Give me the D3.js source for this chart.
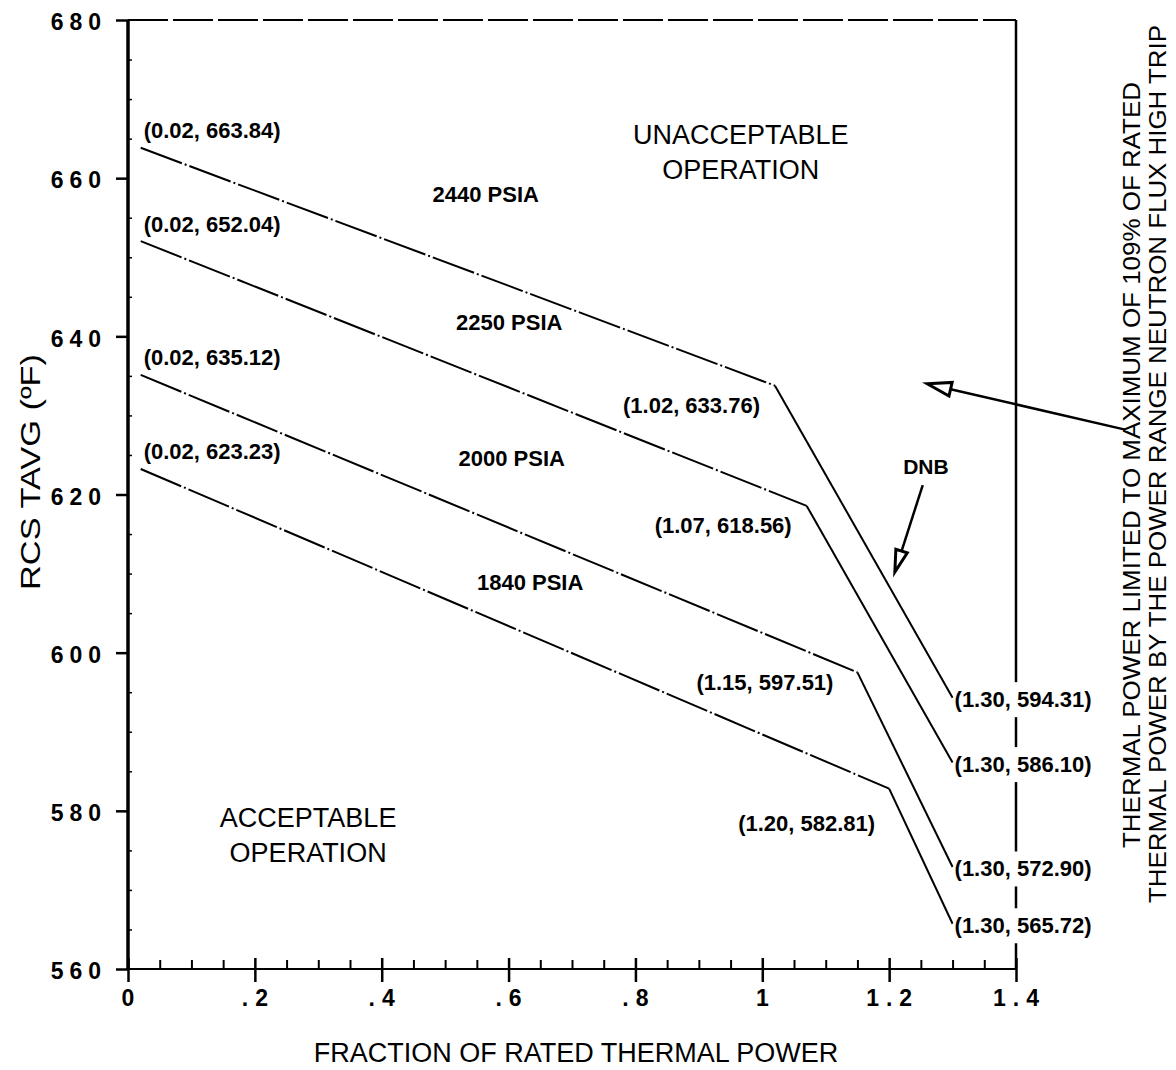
<!DOCTYPE html>
<html><head><meta charset="utf-8">
<script src="https://cdn.jsdelivr.net/npm/d3@7"></script>
<style>
body{margin:0;background:#fff;}
svg{display:block;}
</style></head><body>
<svg id="chart" width="1176" height="1070"></svg>
<script>
// ---------------- data ----------------
const seriesNames = ["2440 PSIA","2250 PSIA","2000 PSIA","1840 PSIA"];
const seriesX = [[0.02,1.02,1.30],[0.02,1.07,1.30],[0.02,1.15,1.30],[0.02,1.20,1.30]];
const seriesY = [[663.84,633.76,594.31],[652.04,618.56,586.10],[635.12,597.51,572.90],[623.23,582.81,565.72]];
const xTicks = [0,0.2,0.4,0.6,0.8,1.0,1.2,1.4];
const xTickLabels = ["0",".2",".4",".6",".8","1","1.2","1.4"];
const yTicks = [560,580,600,620,640,660,680];
const yTickLabels = ["560","580","600","620","640","660","680"];
const xTitle = "FRACTION OF RATED THERMAL POWER";
const yTitle = "RCS TAVG (ºF)";
const regionTexts = [["UNACCEPTABLE","OPERATION"],["ACCEPTABLE","OPERATION"]];
const noteLines = ["THERMAL POWER LIMITED TO MAXIMUM OF 109% OF RATED","THERMAL POWER BY THE POWER RANGE NEUTRON FLUX HIGH TRIP"];
const dnbText = "DNB";

// ---------------- layout (annotation anchors in data units, offsets in px) ----------------
const seriesNamePos = [[0.564,657.9],[0.601,641.7],[0.605,624.6],[0.634,608.9]];
const regionPos = [[0.966,663.2],[0.284,576.9]];
const dnbPos = [1.258,623.5];
const dnbArrow = [[1.253,621.2],[1.209,610.2]];
const noteArrow = [[1.572,628.2],[1.260,634.0]];
const kneeOffsets = [[-15,20],[-15,20],[-24,10],[-14,35]];

const svg = d3.select("#chart");
const x = d3.scaleLinear().domain([0,1.4]).range([128,1016]);
const y = d3.scaleLinear().domain([560,680]).range([969,20]);

const sans = "'Liberation Sans', Arial, Helvetica, sans-serif";

// frame: top dashed, right solid
svg.append("line").attr("x1",x(0)).attr("x2",x(1.4)).attr("y1",y(680)).attr("y2",y(680))
  .attr("stroke","#000").attr("stroke-width",2).attr("stroke-dasharray","40,5");
svg.append("line").attr("x1",x(1.4)).attr("x2",x(1.4)).attr("y1",y(680)).attr("y2",y(560))
  .attr("stroke","#000").attr("stroke-width",2.5);

// x axis
const xAxisG = svg.append("g").attr("transform",`translate(0,${y(560)})`)
  .call(d3.axisBottom(x).tickValues(xTicks).tickFormat((d,i)=>xTickLabels[i]).tickSizeInner(13).tickSizeOuter(0).tickPadding(8));
xAxisG.select(".domain").remove();
xAxisG.selectAll(".tick line").attr("y1",-11).attr("stroke","#000").attr("stroke-width",2.5);
xAxisG.selectAll(".tick text").attr("font-family",sans).attr("font-weight","bold").attr("font-size",23)
  .attr("letter-spacing","7px").attr("dx","3px").attr("fill","#000");
const minorX = d3.range(0,1.4001,0.05).filter(v=>Math.abs(v/0.2-Math.round(v/0.2))>0.01);
const xMinorG = svg.append("g").attr("transform",`translate(0,${y(560)})`)
  .call(d3.axisBottom(x).tickValues(minorX).tickFormat("").tickSizeInner(-9).tickSizeOuter(0));
xMinorG.select(".domain").remove();
xMinorG.selectAll(".tick line").attr("stroke","#000").attr("stroke-width",2);
svg.append("line").attr("x1",x(0)).attr("x2",x(1.4)).attr("y1",y(560)).attr("y2",y(560))
  .attr("stroke","#000").attr("stroke-width",2);

// y axis
const yAxisG = svg.append("g").attr("transform",`translate(${x(0)},0)`)
  .call(d3.axisLeft(y).tickValues(yTicks).tickFormat((d,i)=>yTickLabels[i]).tickSizeInner(12).tickSizeOuter(0).tickPadding(9));
yAxisG.select(".domain").remove();
yAxisG.selectAll(".tick line").attr("stroke","#000").attr("stroke-width",2.5);
yAxisG.selectAll(".tick text").attr("font-family",sans).attr("font-weight","bold").attr("font-size",23)
  .attr("letter-spacing","6px").attr("dy","0.42em").attr("fill","#000");
const minorY = d3.range(565,680,5).filter(v=>v%20!==0);
const yMinorG = svg.append("g").attr("transform",`translate(${x(0)},0)`)
  .call(d3.axisRight(y).tickValues(minorY).tickFormat("").tickSizeInner(4).tickSizeOuter(0));
yMinorG.select(".domain").remove();
yMinorG.selectAll(".tick line").attr("stroke","#000").attr("stroke-width",1.5);
svg.append("line").attr("x1",x(0)).attr("x2",x(0)).attr("y1",y(680)).attr("y2",y(560))
  .attr("stroke","#000").attr("stroke-width",3.5);

// titles
svg.append("text").attr("x",576).attr("y",1062).attr("text-anchor","middle")
  .attr("font-family",sans).attr("font-size",27).text(xTitle);
svg.append("text").attr("transform","translate(40,472) rotate(-90)").attr("text-anchor","middle")
  .attr("font-family",sans).attr("font-size",28).attr("textLength",236).attr("lengthAdjust","spacingAndGlyphs").text(yTitle);

// series
const line = d3.line().x(d=>x(d[0])).y(d=>y(d[1]));
seriesX.forEach((xs,i)=>{
  const pts = xs.map((v,j)=>[v,seriesY[i][j]]);
  svg.append("path").attr("d",line(pts.slice(0,2))).attr("fill","none")
    .attr("stroke","#000").attr("stroke-width",2).attr("stroke-dasharray","44,3,2,3");
  svg.append("path").attr("d",line(pts.slice(1))).attr("fill","none")
    .attr("stroke","#000").attr("stroke-width",2);
});

// point labels
const fmt = (a,b)=>`(${a.toFixed(2)}, ${b.toFixed(2)})`;
function ptLabel(px,py,txt,anchor,bg){
  const t = svg.append("text").attr("x",px).attr("y",py).attr("text-anchor",anchor)
    .attr("dominant-baseline","central").attr("font-family",sans).attr("font-weight","bold")
    .attr("font-size",22).attr("fill","#000").text(txt);
  if(bg){
    const b = t.node().getBBox();
    svg.insert("rect",()=>t.node()).attr("x",b.x-1).attr("y",b.y-5).attr("width",b.width+2).attr("height",b.height+10).attr("fill","#fff");
  }
}
seriesX.forEach((xs,i)=>{
  const ys = seriesY[i];
  ptLabel(x(xs[0])+3, y(ys[0])-17, fmt(xs[0],ys[0]), "start", false);
  ptLabel(x(xs[1])+kneeOffsets[i][0], y(ys[1])+kneeOffsets[i][1], fmt(xs[1],ys[1]), "end", false);
  ptLabel(x(xs[2])+2, y(ys[2])+2, fmt(xs[2],ys[2]), "start", true);
});

// series names
seriesNames.forEach((n,i)=>{
  svg.append("text").attr("x",x(seriesNamePos[i][0])).attr("y",y(seriesNamePos[i][1]))
    .attr("text-anchor","middle").attr("dominant-baseline","central")
    .attr("font-family",sans).attr("font-weight","bold").attr("font-size",22).text(n);
});

// region labels
regionTexts.forEach((lines,i)=>{
  lines.forEach((s,k)=>{
    svg.append("text").attr("x",x(regionPos[i][0])).attr("y",y(regionPos[i][1])+(k-0.5)*35)
      .attr("text-anchor","middle").attr("dominant-baseline","central")
      .attr("font-family",sans).attr("font-size",27).text(s);
  });
});

// DNB
svg.append("text").attr("x",x(dnbPos[0])).attr("y",y(dnbPos[1])).attr("text-anchor","middle")
  .attr("dominant-baseline","central").attr("font-family",sans).attr("font-weight","bold").attr("font-size",21).text(dnbText);

function arrow(from,to,len,hw){
  const x0=x(from[0]), y0=y(from[1]), x1=x(to[0]), y1=y(to[1]);
  const dx=x1-x0, dy=y1-y0, L=Math.hypot(dx,dy), ux=dx/L, uy=dy/L;
  const bx=x1-ux*len, by=y1-uy*len;
  svg.append("line").attr("x1",x0).attr("y1",y0).attr("x2",bx).attr("y2",by)
    .attr("stroke","#000").attr("stroke-width",2.5);
  svg.append("path").attr("d",`M${x1},${y1}L${bx-uy*hw},${by+ux*hw}L${bx+uy*hw},${by-ux*hw}Z`)
    .attr("fill","#fff").attr("stroke","#000").attr("stroke-width",3).attr("stroke-linejoin","miter");
}
arrow(dnbArrow[0],dnbArrow[1],22,6);
arrow(noteArrow[0],noteArrow[1],24,7);

// right note
const noteX = [1132,1158];
const noteLen = [766,878];
const noteCy = [465,464];
noteLines.forEach((s,i)=>{
  svg.append("text").attr("transform",`translate(${noteX[i]},${noteCy[i]}) rotate(-90)`)
    .attr("text-anchor","middle").attr("dominant-baseline","central")
    .attr("font-family",sans).attr("font-size",23)
    .attr("textLength",noteLen[i]).attr("lengthAdjust","spacingAndGlyphs").text(s);
});
</script>
</body></html>
